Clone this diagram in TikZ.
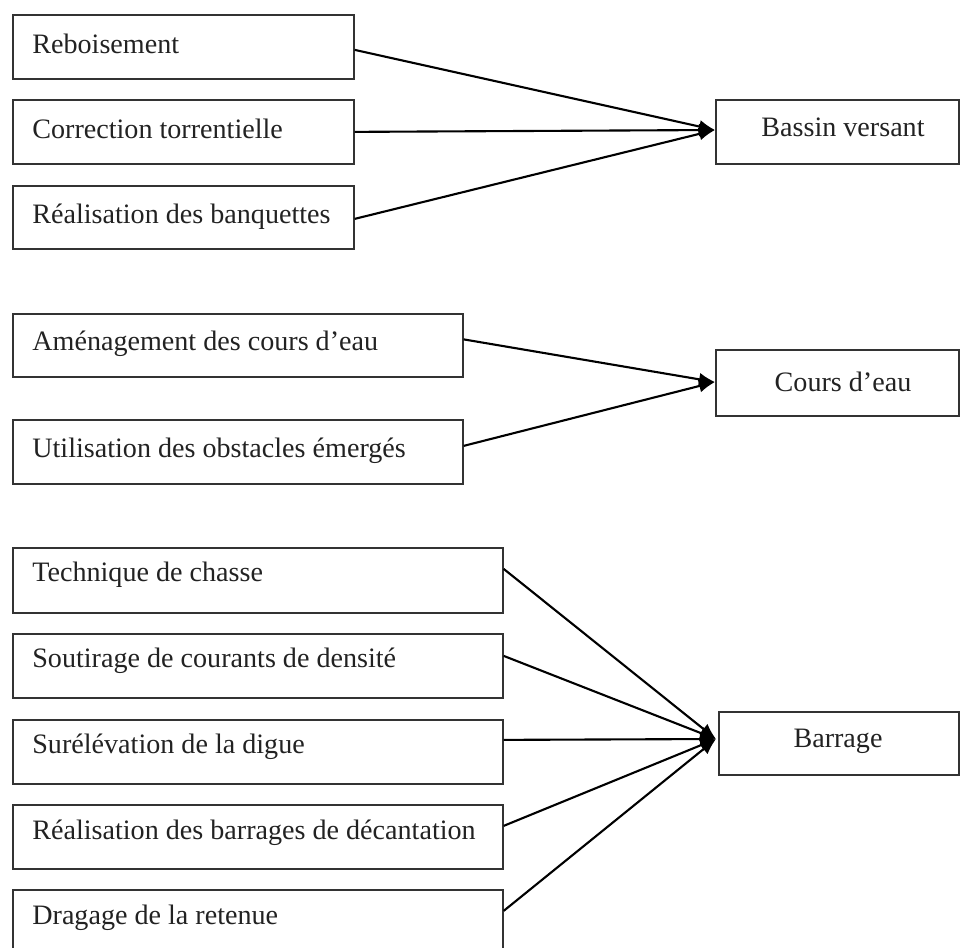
\documentclass[tikz,border=0pt]{standalone}
\usepackage{fontspec}
\setmainfont{Liberation Serif}
\usetikzlibrary{arrows.meta}
\definecolor{ink}{HTML}{222222}
\definecolor{frame}{HTML}{333333}
\tikzset{
  leftbox/.style={draw=frame, line width=1pt, rectangle, inner sep=0pt, anchor=north west, text=ink},
  rightbox/.style={draw=frame, line width=1pt, rectangle, inner sep=0pt, anchor=north west, text=ink},
  lbl/.style={anchor=base west, inner sep=0pt, text=ink, font=\fontsize{16}{19}\selectfont},
  rlbl/.style={anchor=base, inner sep=0pt, text=ink, font=\fontsize{16}{19}\selectfont},
  conn/.style={line width=1.2pt, black, -{Latex[length=0.32cm,width=0.26cm]}},
}
\begin{document}
\begin{tikzpicture}[x=0.02cm,y=-0.02cm]
\useasboundingbox (0,0) rectangle (960,947);
% --- group 1
\node[leftbox, minimum width=6.82cm, minimum height=1.28cm] (a1) at (12,14) {};
\node[leftbox, minimum width=6.82cm, minimum height=1.28cm] (a2) at (12,99) {};
\node[leftbox, minimum width=6.82cm, minimum height=1.26cm] (a3) at (12,185) {};
\node[rightbox, minimum width=4.86cm, minimum height=1.28cm] (r1) at (715,99) {};
\node[lbl] (ta1) at (32,53) {Reboisement};
\node[lbl] (ta2) at (32,138) {Correction torrentielle};
\node[lbl] (ta3) at (32,223) {Réalisation des banquettes};
\node[rlbl] (tr1) at (843,136) {Bassin versant};
\coordinate (p1) at (715,130);
\draw[conn] ([yshift=-0.06cm]a1.east) -- (p1);
\draw[conn] (a2.east) -- (p1);
\draw[conn] ([yshift=-0.03cm]a3.east) -- (p1);
% --- group 2
\node[leftbox, minimum width=9.0cm, minimum height=1.26cm] (b1) at (12,313) {};
\node[leftbox, minimum width=9.0cm, minimum height=1.28cm] (b2) at (12,419) {};
\node[rightbox, minimum width=4.86cm, minimum height=1.32cm] (r2) at (715,349) {};
\node[lbl] (tb1) at (32,350) {Aménagement des cours d’eau};
\node[lbl] (tb2) at (32,457) {Utilisation des obstacles émergés};
\node[rlbl] (tr2) at (843,391) {Cours d’eau};
\coordinate (p2) at (715,382);
\draw[conn] ([yshift=0.12cm]b1.east) -- (p2);
\draw[conn] ([yshift=0.12cm]b2.east) -- (p2);
% --- group 3
\node[leftbox, minimum width=9.8cm, minimum height=1.3cm] (c1) at (12,547) {};
\node[leftbox, minimum width=9.8cm, minimum height=1.28cm] (c2) at (12,633) {};
\node[leftbox, minimum width=9.8cm, minimum height=1.28cm] (c3) at (12,719) {};
\node[leftbox, minimum width=9.8cm, minimum height=1.28cm] (c4) at (12,804) {};
\node[leftbox, minimum width=9.8cm, minimum height=1.28cm] (c5) at (12,889) {};
\node[rightbox, minimum width=4.8cm, minimum height=1.26cm] (r3) at (718,711) {};
\node[lbl] (tc1) at (32,581) {Technique de chasse};
\node[lbl] (tc2) at (32,667) {Soutirage de courants de densité};
\node[lbl] (tc3) at (32,753) {Surélévation de la digue};
\node[lbl] (tc4) at (32,839) {Réalisation des barrages de décantation};
\node[lbl] (tc5) at (32,924) {Dragage de la retenue};
\node[rlbl] (tr3) at (838,747) {Barrage};
\coordinate (p3) at (716,739);
\draw[conn] ([yshift=0.23cm]c1.east) -- (p3);
\draw[conn] ([yshift=0.2cm]c2.east) -- (p3);
\draw[conn] ([yshift=0.24cm]c3.east) -- (p3);
\draw[conn] ([yshift=0.22cm]c4.east) -- (p3);
\draw[conn] ([yshift=0.22cm]c5.east) -- (p3);
\end{tikzpicture}
\end{document}
